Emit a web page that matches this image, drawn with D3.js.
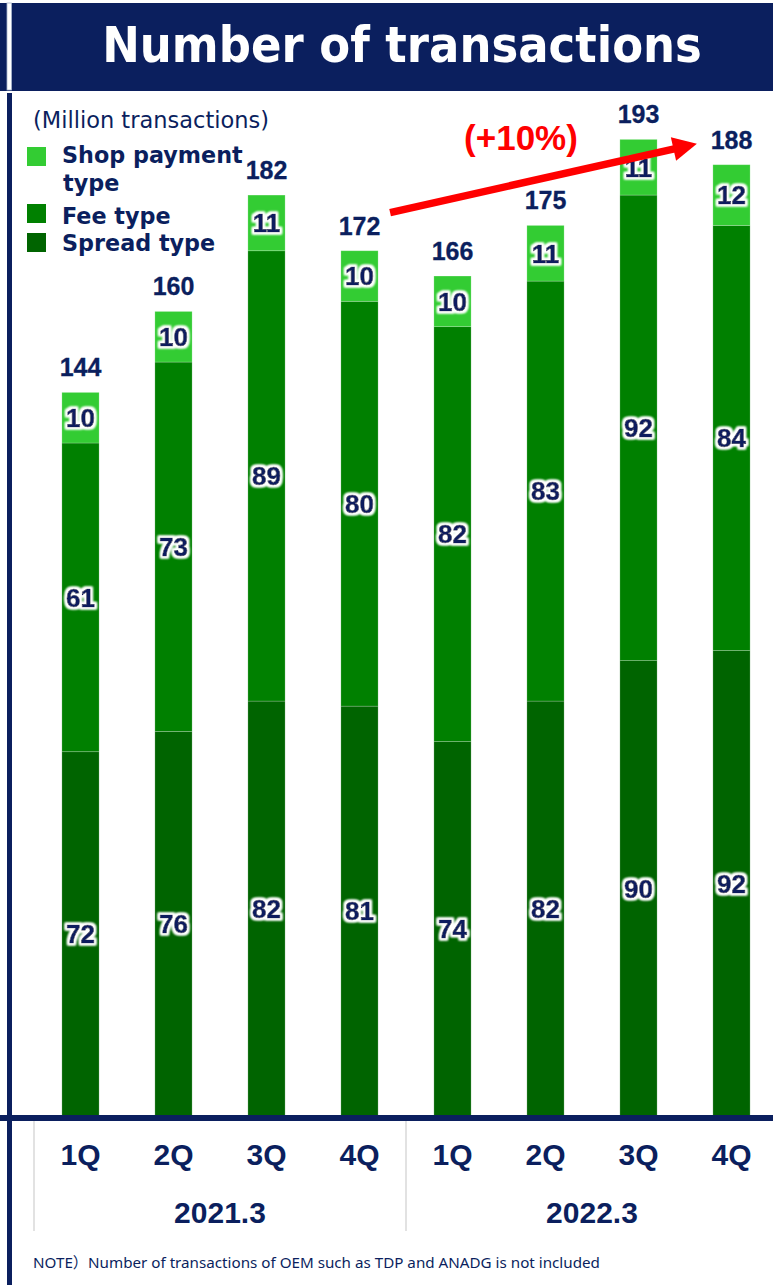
<!DOCTYPE html>
<html><head><meta charset="utf-8">
<script src="https://cdn.jsdelivr.net/npm/d3@7"></script>
<style>body{margin:0;background:#fff}svg{display:block}</style>
</head><body>
<script>
// ---- data ----
const quarters = ["1Q","2Q","3Q","4Q","1Q","2Q","3Q","4Q"];
const fiscalYears = ["2021.3","2022.3"];
const spreadType = [72,76,82,81,74,82,90,92];
const feeType = [61,73,89,80,82,83,92,84];
const shopPaymentType = [10,10,11,10,10,11,11,12];
const totals = [144,160,182,172,166,175,193,188];
const seriesNames = ["Shop payment type","Fee type","Spread type"];
const titleText = "Number of transactions";
const unitText = "(Million transactions)";
const growthLabel = "(+10%)";
const noteText = "NOTE）Number of transactions of OEM such as TDP and ANADG is not included";

// ---- setup ----
const W = 773, H = 1285;
const NAVY = "#0b1f5e";
const colors = {shop:"#33cc33", fee:"#008000", spread:"#006400"};
const svg = d3.select("body").append("svg").attr("width", W).attr("height", H);

const defs = svg.append("defs");
const f = defs.append("filter").attr("id","glow").attr("x","-30%").attr("y","-30%").attr("width","160%").attr("height","160%");
f.append("feMorphology").attr("in","SourceAlpha").attr("operator","dilate").attr("radius",1.6).attr("result","d");
f.append("feGaussianBlur").attr("in","d").attr("stdDeviation",1.1).attr("result","b");
f.append("feFlood").attr("flood-color","#fff");
f.append("feComposite").attr("in2","b").attr("operator","in").attr("result","g");
const fm = f.append("feMerge");
fm.append("feMergeNode").attr("in","g");
fm.append("feMergeNode").attr("in","g");
fm.append("feMergeNode").attr("in","SourceGraphic");

// ---- frame ----
svg.append("rect").attr("x",0).attr("y",3).attr("width",W).attr("height",88).attr("fill",NAVY);
svg.append("rect").attr("x",7).attr("y",3).attr("width",4.5).attr("height",87).attr("fill","#fff").attr("stroke","#aab6cc").attr("stroke-width",0.8);
svg.append("text").attr("x",402).attr("y",62).attr("text-anchor","middle")
  .attr("font-family","'DejaVu Sans Condensed','DejaVu Sans',sans-serif").attr("font-weight","bold")
  .attr("font-size",50).attr("fill","#fff").text(titleText);
svg.append("rect").attr("x",7).attr("y",93).attr("width",5).attr("height",H-93).attr("fill",NAVY);

// ---- scales ----
const x = d3.scaleBand().domain(d3.range(quarters.length)).range([34,778]).paddingInner(0.6).paddingOuter(0.3);
const y = d3.scaleLinear().domain([0,200]).range([1116,104]);

const rows = quarters.map((q,i)=>({i, spread:spreadType[i], fee:feeType[i], shop:shopPaymentType[i]}));
const stack = d3.stack().keys(["spread","fee","shop"])(rows);

const g = svg.append("g");
stack.forEach(layer=>{
  const key = layer.key;
  g.selectAll(null).data(layer).join("rect")
    .attr("x", d=>x(d.data.i)).attr("width", x.bandwidth())
    .attr("y", d=>y(d[1])).attr("height", d=>y(d[0])-y(d[1]))
    .attr("fill", colors[key]).attr("stroke","rgba(255,255,255,0.25)").attr("stroke-width",0.8);
  g.selectAll(null).data(layer).join("text")
    .attr("x", d=>x(d.data.i)+x.bandwidth()/2).attr("y", d=>(y(d[0])+y(d[1]))/2)
    .attr("dy","0.36em").attr("text-anchor","middle")
    .attr("font-family","'Liberation Sans',Arial,sans-serif").attr("font-weight","bold").attr("font-size",26)
    .attr("fill",NAVY).attr("stroke",NAVY).attr("stroke-width",0.7).attr("filter","url(#glow)")
    .text(d=>d.data[key]);
});
// totals
g.selectAll(null).data(rows).join("text")
  .attr("x", d=>x(d.i)+x.bandwidth()/2).attr("y", d=>y(d.spread+d.fee+d.shop)-16)
  .attr("text-anchor","middle")
  .attr("font-family","'Liberation Sans',Arial,sans-serif").attr("font-weight","bold").attr("font-size",25)
  .attr("fill",NAVY).attr("stroke",NAVY).attr("stroke-width",0.3).text(d=>totals[d.i]);

// ---- axis ----
svg.append("rect").attr("x",0).attr("y",1115).attr("width",W).attr("height",6).attr("fill",NAVY);
const ax = svg.append("g").attr("transform","translate(0,1118)")
  .call(d3.axisBottom(x).tickSize(0).tickFormat(i=>quarters[i]));
ax.select(".domain").remove();
ax.selectAll("text").attr("y",47).attr("dy",0)
  .attr("font-family","'Liberation Sans',Arial,sans-serif").attr("font-weight","bold").attr("font-size",30)
  .attr("fill",NAVY);
const per = quarters.length/fiscalYears.length;
fiscalYears.forEach((fy,k)=>{
  const x0 = x.range()[0] + k*per*x.step();
  svg.append("line").attr("x1",x0).attr("x2",x0).attr("y1",1121).attr("y2",1231)
    .attr("stroke","#d9d9d9").attr("stroke-width",1.5);
  const cx = (x(k*per) + x(k*per+per-1) + x.bandwidth())/2;
  svg.append("text").attr("x",cx).attr("y",1223).attr("text-anchor","middle")
    .attr("font-family","'Liberation Sans',Arial,sans-serif").attr("font-weight","bold").attr("font-size",30)
    .attr("fill",NAVY).text(fy);
});

// ---- legend ----
svg.append("text").attr("x",33).attr("y",128)
  .attr("font-family","'DejaVu Sans',sans-serif").attr("font-size",22.5).attr("fill",NAVY).text(unitText);
const legendKeys = ["shop","fee","spread"];
const legendLines = [["Shop payment","type"],["Fee type"],["Spread type"]];
const legendBoxY = [147,204,233];
const legendTextY = [163,224,251];
legendKeys.forEach((k,j)=>{
  svg.append("rect").attr("x",27).attr("y",legendBoxY[j]).attr("width",19).attr("height",19).attr("fill",colors[k]);
  const t = svg.append("text").attr("x",62).attr("y",legendTextY[j])
    .attr("font-family","'DejaVu Sans',sans-serif").attr("font-weight","bold").attr("font-size",22.3).attr("fill",NAVY);
  legendLines[j].forEach((ln,li)=>t.append("tspan").attr("x",li?63:62).attr("dy",li?28:0).text(ln));
});

// ---- growth arrow ----
const last = rows.length-1;
const sx = x(3)+x.bandwidth()+12, sy = y(totals[3])-33;
const ex = x(last)-16, ey = y(totals[last])-21;
const ang = Math.atan2(ey-sy, ex-sx);
const hl = 24, hw = 12;
const bx = ex - hl*Math.cos(ang), by = ey - hl*Math.sin(ang);
svg.append("line").attr("x1",sx).attr("y1",sy).attr("x2",bx+2*Math.cos(ang)).attr("y2",by+2*Math.sin(ang))
  .attr("stroke","#ff0000").attr("stroke-width",7.5);
svg.append("path").attr("d",`M${ex},${ey}L${bx+hw*Math.sin(ang)},${by-hw*Math.cos(ang)}L${bx-hw*Math.sin(ang)},${by+hw*Math.cos(ang)}Z`)
  .attr("fill","#ff0000");
svg.append("text").attr("x",521).attr("y",150).attr("text-anchor","middle")
  .attr("font-family","'Liberation Sans',Arial,sans-serif").attr("font-weight","bold").attr("font-size",35)
  .attr("fill","#ff0000").text(growthLabel);

// ---- note ----
svg.append("text").attr("x",33).attr("y",1268)
  .attr("font-family","'Noto Sans','Noto Sans CJK JP',sans-serif").attr("font-size",15.2).attr("fill",NAVY).text(noteText);
</script>
</body></html>
